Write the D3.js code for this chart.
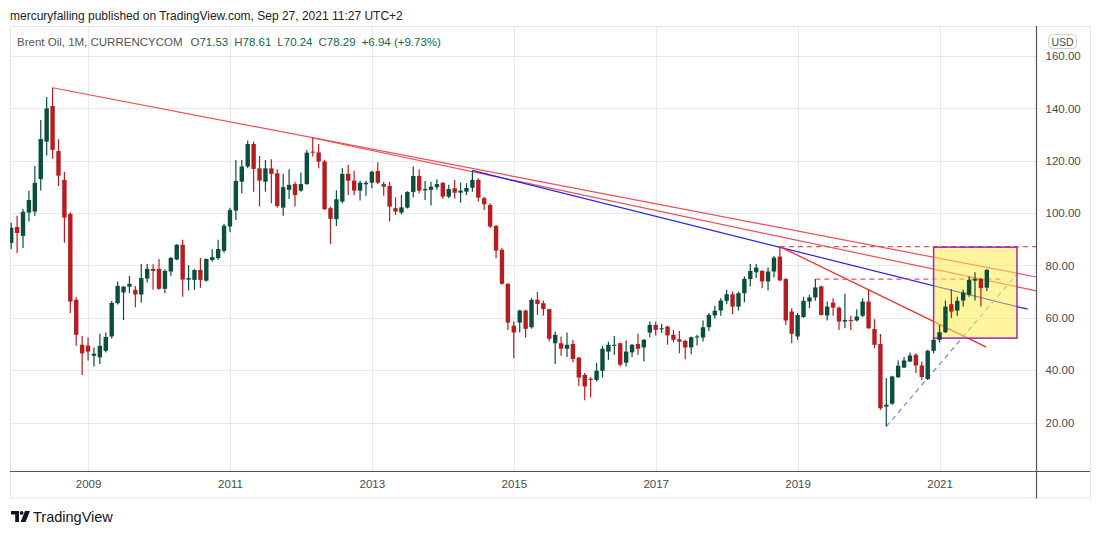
<!DOCTYPE html>
<html>
<head>
<meta charset="utf-8">
<script src="https://cdn.jsdelivr.net/npm/d3@7"></script>
<style>
  body { margin: 0; background: #fff; }
  svg { display: block; font-family: "Liberation Sans", Arial, sans-serif; }
</style>
</head>
<body>
<script>
// Brent Oil monthly candles, Dec 2007 .. Sep 2021
var firstYear = 2007, firstMonth = 12;

var opens = [
  88.6,
  94.7, 91.3, 100.2, 100.6, 113.0, 127.3, 140.9, 123.7, 112.7, 99.7, 66.9, 49.7,
  49.4, 45.5, 44.9, 47.4, 52.9, 65.6, 69.7, 71.9, 70.7, 68.9, 75.0, 78.7,
  78.7, 71.1, 77.7, 82.3, 87.9, 74.6, 74.5, 78.3, 74.2, 82.1, 82.8, 85.6,
  94.9, 101.0, 112.0, 117.8, 126.4, 117.1, 112.0, 117.1, 115.2, 102.1, 108.9, 111.1,
  108.6, 111.1, 123.5, 123.2, 119.7, 101.9, 97.7, 104.4, 115.0, 112.4, 108.6, 111.0,
  111.6, 116.1, 111.1, 110.4, 101.9, 100.2, 102.1, 108.1, 114.2, 108.7, 108.9, 109.9,
  111.6, 106.3, 109.5, 107.8, 108.2, 109.7, 112.7, 105.7, 103.1, 95.1, 86.0, 73.0,
  57.0, 58.2, 62.8, 56.4, 66.9, 65.6, 63.3, 50.3, 50.3, 48.2, 50.0, 44.8,
  38.2, 36.7, 36.3, 39.8, 47.1, 49.3, 50.3, 42.9, 46.8, 50.0, 48.7, 54.4,
  57.3, 55.7, 56.7, 53.5, 51.8, 51.2, 48.7, 52.5, 52.5, 56.4, 60.9, 62.8,
  66.5, 69.0, 64.3, 69.4, 74.8, 77.4, 77.9, 73.9, 77.7, 83.4, 74.8, 62.4,
  52.9, 60.3, 66.2, 67.8, 72.0, 60.9, 65.8, 63.9, 58.6, 59.2, 59.0, 60.8,
  66.2, 55.7, 50.0, 26.1, 27.2, 37.3, 41.0, 43.3, 45.9, 41.8, 36.6, 47.4,
  51.6, 54.5, 65.2, 62.8, 66.6, 68.8, 74.2, 74.9, 71.53
];
var highs = [
  96.3,
  99.0, 101.6, 108.5, 118.0, 135.6, 144.4, 147.9, 128.2, 115.7, 100.3, 67.9, 53.1,
  52.5, 48.7, 53.9, 54.4, 66.4, 73.9, 72.2, 76.0, 72.2, 80.6, 80.6, 80.5,
  82.5, 78.6, 83.2, 88.2, 89.8, 80.2, 78.6, 82.9, 82.7, 86.2, 89.8, 95.9,
  102.1, 120.3, 120.3, 127.7, 127.4, 121.8, 120.3, 120.6, 116.8, 115.0, 116.8, 112.0,
  115.5, 124.1, 128.7, 126.4, 120.3, 102.5, 108.6, 117.1, 118.4, 116.2, 112.4, 112.4,
  116.2, 119.4, 112.0, 112.0, 106.1, 106.9, 108.4, 117.8, 116.8, 112.3, 112.0, 112.9,
  111.8, 110.8, 112.7, 111.6, 111.4, 116.3, 113.3, 106.3, 103.8, 95.5, 86.6, 73.2,
  58.6, 63.1, 63.1, 67.5, 69.9, 66.6, 63.4, 54.8, 52.9, 54.4, 51.6, 45.0,
  38.9, 37.4, 42.7, 49.3, 50.9, 53.1, 50.5, 51.3, 50.0, 53.9, 51.9, 58.6,
  58.6, 57.7, 57.0, 55.4, 55.0, 51.6, 52.9, 53.5, 59.0, 61.8, 64.6, 67.5,
  70.7, 70.1, 70.1, 75.8, 80.6, 80.6, 78.3, 79.2, 83.6, 87.2, 75.2, 63.7,
  61.8, 68.1, 68.8, 74.8, 72.3, 66.2, 67.5, 64.3, 69.2, 60.8, 63.3, 67.5,
  70.7, 59.5, 53.8, 37.0, 37.9, 43.7, 45.0, 46.8, 46.5, 43.3, 47.8, 52.5,
  57.3, 66.6, 71.0, 68.1, 70.7, 75.8, 77.4, 75.2, 78.61
];
var lows = [
  86.3,
  84.8, 86.7, 96.8, 99.0, 108.6, 122.0, 120.8, 110.4, 88.7, 61.8, 49.3, 38.2,
  43.7, 41.4, 42.4, 46.8, 52.1, 65.1, 59.2, 69.4, 64.0, 65.8, 73.5, 70.7,
  70.7, 69.4, 76.0, 82.0, 68.1, 70.4, 70.7, 71.5, 73.9, 81.4, 82.1, 84.9,
  92.7, 97.4, 107.6, 117.1, 108.2, 102.5, 108.2, 103.8, 102.1, 99.0, 105.4, 102.5,
  108.2, 110.8, 121.6, 117.1, 101.2, 88.2, 95.1, 103.8, 106.9, 106.9, 104.8, 106.6,
  109.5, 111.1, 106.6, 96.8, 99.3, 99.5, 101.8, 106.1, 107.6, 105.0, 102.9, 108.9,
  105.5, 105.7, 105.5, 104.0, 106.9, 108.2, 104.4, 101.2, 94.2, 82.8, 72.6, 55.4,
  44.6, 54.4, 52.5, 55.8, 61.1, 60.9, 51.0, 42.4, 45.5, 45.0, 43.0, 34.0,
  28.5, 29.6, 35.7, 37.2, 44.0, 45.9, 41.4, 41.4, 45.0, 45.9, 43.3, 52.6,
  53.3, 54.2, 49.7, 50.6, 46.5, 44.2, 46.1, 49.4, 51.0, 55.0, 59.7, 60.8,
  65.2, 61.4, 62.8, 66.0, 72.0, 75.2, 71.3, 70.4, 75.4, 74.1, 57.3, 50.3,
  51.6, 59.9, 63.7, 66.5, 60.9, 59.0, 60.8, 55.4, 56.0, 55.4, 58.6, 60.3,
  55.8, 48.4, 24.8, 18.5, 26.8, 37.0, 40.8, 43.1, 38.9, 36.3, 36.3, 46.5,
  50.6, 54.2, 59.9, 60.8, 64.3, 68.1, 66.6, 64.3, 70.24
];
var closes = [
  94.4,
  92.4, 100.5, 105.0, 111.5, 128.3, 140.0, 124.2, 114.3, 98.3, 66.2, 53.5, 46.4,
  47.1, 46.3, 49.3, 52.7, 65.7, 72.2, 71.9, 73.0, 68.9, 75.2, 78.7, 77.9,
  71.1, 77.9, 82.9, 87.9, 74.6, 75.2, 78.3, 74.5, 82.5, 83.2, 86.3, 95.2,
  101.2, 112.3, 117.8, 126.4, 116.9, 112.4, 117.1, 115.0, 102.7, 109.9, 110.8, 106.9,
  111.1, 123.1, 123.1, 119.7, 101.5, 97.8, 105.3, 115.0, 112.4, 108.6, 111.6, 111.6,
  115.8, 111.6, 110.1, 102.5, 100.6, 102.2, 108.1, 114.2, 108.6, 109.2, 110.1, 111.1,
  106.3, 109.2, 107.8, 108.6, 109.6, 112.7, 105.9, 103.4, 94.9, 85.7, 73.0, 58.2,
  54.4, 62.8, 55.8, 66.9, 65.3, 63.4, 52.0, 53.5, 48.2, 49.7, 44.3, 37.2,
  33.8, 36.3, 39.8, 48.2, 49.7, 49.7, 42.1, 47.1, 49.7, 48.2, 51.6, 57.3,
  55.4, 56.0, 53.3, 51.6, 50.9, 48.7, 52.6, 52.9, 56.4, 61.1, 62.7, 66.6,
  69.0, 64.3, 69.4, 74.9, 77.9, 79.2, 73.9, 77.7, 83.0, 74.3, 59.0, 53.9,
  61.1, 66.5, 67.8, 71.6, 61.1, 64.3, 63.9, 58.6, 59.2, 58.9, 60.5, 66.2,
  56.0, 49.7, 25.5, 26.8, 37.6, 41.7, 43.7, 45.6, 41.8, 37.4, 47.4, 51.6,
  54.5, 64.3, 62.4, 66.5, 69.7, 74.5, 74.9, 71.35, 78.29
];

var yearTicks = ["2009", "2011", "2013", "2015", "2017", "2019", "2021"];
var priceTicks = [20, 40, 60, 80, 100, 120, 140, 160];

// drawings, anchored on bar index / price
var trendLines = [
  { i1: 7,   p1: 147.9, i2: 173.4, p2: 75.6, kind: "red" },
  { i1: 51,  p1: 128.7, i2: 173.4, p2: 70.3, kind: "red" },
  { i1: 78,  p1: 116.3, i2: 171.9, p2: 63.3, kind: "blue" },
  { i1: 130, p1: 87.2,  i2: 164.9, p2: 48.8, kind: "red2" }
];
var dashLines = [
  { i1: 130, p1: 87.2, i2: 173.4, p2: 87.2, kind: "red" },
  { i1: 136, p1: 74.8, i2: 167.6, p2: 74.8, kind: "red" },
  { i1: 148, p1: 18.5, i2: 170.2, p2: 77.1, kind: "lightblue" }
];
var boxes = [ { i1: 156, i2: 170.1, top: 87.0, bottom: 52.25 } ];

var legendName = "Brent Oil, 1M, CURRENCYCOM";
var headerText = "mercuryfalling published on TradingView.com, Sep 27, 2021 11:27 UTC+2";

var months = [];
(function(){
  var yr = firstYear, m = firstMonth;
  for (var k = 0; k < closes.length; k++) {
    months.push(yr + "-" + (m < 10 ? "0" + m : m));
    m++; if (m > 12) { m = 1; yr++; }
  }
})();
var bars = months.map(function(d, i){
  return { m: d, i: i, o: opens[i], h: highs[i], l: lows[i], c: closes[i] };
});

var W = 1100, H = 534;
var plotL = 10, plotR = 1036.5, plotT = 27, plotB = 471.5, outerR = 1090, outerB = 498.5;

var svg = d3.select("body").append("svg").attr("width", W).attr("height", H);

var x = d3.scaleLinear().domain([-0.2, 173.4]).range([plotL, plotR]);
var y = d3.scaleLinear().domain([1.3, 171.1]).range([plotB, plotT]);

var green = "#0a4f3d", red = "#b81c20";
var lineCol = { red: "#f04d55", red2: "#ff2424", blue: "#1f1ff5", lightblue: "#6d8cf5" };

svg.append("defs").append("clipPath").attr("id", "plot")
  .append("rect").attr("x", plotL).attr("y", plotT).attr("width", plotR - plotL).attr("height", plotB - plotT);

// frame
svg.append("rect").attr("x", plotL + 0.5).attr("y", plotT - 0.5)
  .attr("width", outerR - plotL).attr("height", outerB - plotT)
  .style("fill", "none").style("stroke", "#e3e5ea");

// grid
var tickIdx = yearTicks.map(function(yr){ return months.indexOf(yr + "-01"); });
svg.append("g").selectAll("line").data(tickIdx).enter().append("line")
  .attr("x1", function(d){ return Math.round(x(d)) + 0.5; })
  .attr("x2", function(d){ return Math.round(x(d)) + 0.5; })
  .attr("y1", plotT).attr("y2", plotB)
  .style("stroke", "#e9e9e9");
svg.append("g").selectAll("line").data(priceTicks).enter().append("line")
  .attr("x1", plotL).attr("x2", plotR)
  .attr("y1", function(d){ return Math.round(y(d)) + 0.5; })
  .attr("y2", function(d){ return Math.round(y(d)) + 0.5; })
  .style("stroke", "#e9e9e9");

var plot = svg.append("g").attr("clip-path", "url(#plot)");

// trend lines
plot.selectAll(".tl").data(trendLines).enter().append("line").attr("class", "tl")
  .attr("x1", function(d){ return x(d.i1); }).attr("y1", function(d){ return y(d.p1); })
  .attr("x2", function(d){ return x(d.i2); }).attr("y2", function(d){ return y(d.p2); })
  .style("stroke", function(d){ return lineCol[d.kind]; })
  .style("stroke-width", 1.2);
plot.selectAll(".dl").data(dashLines).enter().append("line").attr("class", "dl")
  .attr("x1", function(d){ return x(d.i1); }).attr("y1", function(d){ return y(d.p1); })
  .attr("x2", function(d){ return x(d.i2); }).attr("y2", function(d){ return y(d.p2); })
  .style("stroke", function(d){ return lineCol[d.kind]; })
  .style("stroke-width", 1.2)
  .style("stroke-dasharray", "5,4");

plot.selectAll(".box").data(boxes).enter().append("rect").attr("class", "box")
  .attr("x", function(d){ return x(d.i1); })
  .attr("y", function(d){ return y(d.top); })
  .attr("width", function(d){ return x(d.i2) - x(d.i1); })
  .attr("height", function(d){ return y(d.bottom) - y(d.top); })
  .style("fill", "rgba(255, 236, 80, 0.55)")
  .style("stroke", "#9c27b0")
  .style("stroke-width", 1.5);

// candles
var bw = 4.4;
var cg = plot.selectAll(".bar").data(bars).enter().append("g").attr("class", "bar");
cg.append("line")
  .attr("x1", function(d){ return x(d.i); }).attr("x2", function(d){ return x(d.i); })
  .attr("y1", function(d){ return y(d.h); }).attr("y2", function(d){ return y(d.l); })
  .style("stroke", function(d){ return d.c >= d.o ? green : red; })
  .style("stroke-width", 1.2);
cg.append("rect")
  .attr("x", function(d){ return x(d.i) - bw / 2; })
  .attr("y", function(d){ return y(Math.max(d.o, d.c)); })
  .attr("width", bw)
  .attr("height", function(d){ return Math.max(1, Math.abs(y(d.o) - y(d.c))); })
  .style("fill", function(d){ return d.c >= d.o ? green : red; });

// axes
var yAxis = d3.axisRight(y).tickValues(priceTicks).tickFormat(d3.format(".2f")).tickSize(0).tickPadding(9);
var ya = svg.append("g").attr("transform", "translate(" + plotR + ",0)").call(yAxis);
ya.select(".domain").remove();
ya.selectAll("text").style("font-size", "11.5px").style("fill", "#4a4a4a");

var xAxis = d3.axisBottom(x).tickValues(tickIdx)
  .tickFormat(function(i){ return months[i].slice(0, 4); }).tickSize(0).tickPadding(8);
var xa = svg.append("g").attr("transform", "translate(0," + plotB + ")").call(xAxis);
xa.select(".domain").remove();
xa.selectAll("text").style("font-size", "11.5px").style("fill", "#4a4a4a");

svg.append("line").attr("x1", plotL).attr("x2", outerR).attr("y1", plotB).attr("y2", plotB)
  .style("stroke", "#555").style("stroke-width", 1.2);
svg.append("line").attr("x1", plotR).attr("x2", plotR).attr("y1", plotT - 1).attr("y2", outerB)
  .style("stroke", "#555").style("stroke-width", 1.2);

// USD badge
svg.append("rect").attr("x", 1048.5).attr("y", 34.5).attr("width", 28).attr("height", 14).attr("rx", 4)
  .style("fill", "#fff").style("stroke", "#cfcfcf");
svg.append("text").attr("x", 1062.5).attr("y", 45.5).attr("text-anchor", "middle")
  .style("font-size", "10.5px").style("fill", "#4a4a4a").text("USD");

// header + legend
svg.append("text").attr("x", 10).attr("y", 20).style("font-size", "12px").style("fill", "#222")
  .text(headerText);

var last = bars[bars.length - 1];
var prev = bars[bars.length - 2];
var chg = last.c - prev.c;
var leg = svg.append("text").attr("x", 17).attr("y", 46).style("font-size", "11.5px");
leg.append("tspan").style("fill", "#555").text(legendName);
[["O", last.o], ["H", last.h], ["L", last.l], ["C", last.c]].forEach(function(p, k){
  leg.append("tspan").attr("dx", k === 0 ? 8 : 6).style("fill", "#555").text(p[0]);
  leg.append("tspan").style("fill", "#0c6a4c").text(d3.format(".2f")(p[1]));
});
leg.append("tspan").attr("dx", 6).style("fill", "#0c6a4c")
  .text("+" + d3.format(".2f")(chg) + " (+" + d3.format(".2f")(chg / prev.c * 100) + "%)");

// TradingView mark
var logo = svg.append("g").attr("transform", "translate(11,511)").style("fill", "#131722");
logo.append("path").attr("d", "M0,0 H8 V11 H4.2 V3.4 H0 Z");
logo.append("circle").attr("cx", 10.6).attr("cy", 1.9).attr("r", 1.9);
logo.append("path").attr("d", "M14,0 H19 L14.5,11 H9.5 Z");
svg.append("text").attr("x", 33).attr("y", 522).style("font-size", "14.5px").style("fill", "#131722")
  .text("TradingView");
</script>
</body>
</html>
